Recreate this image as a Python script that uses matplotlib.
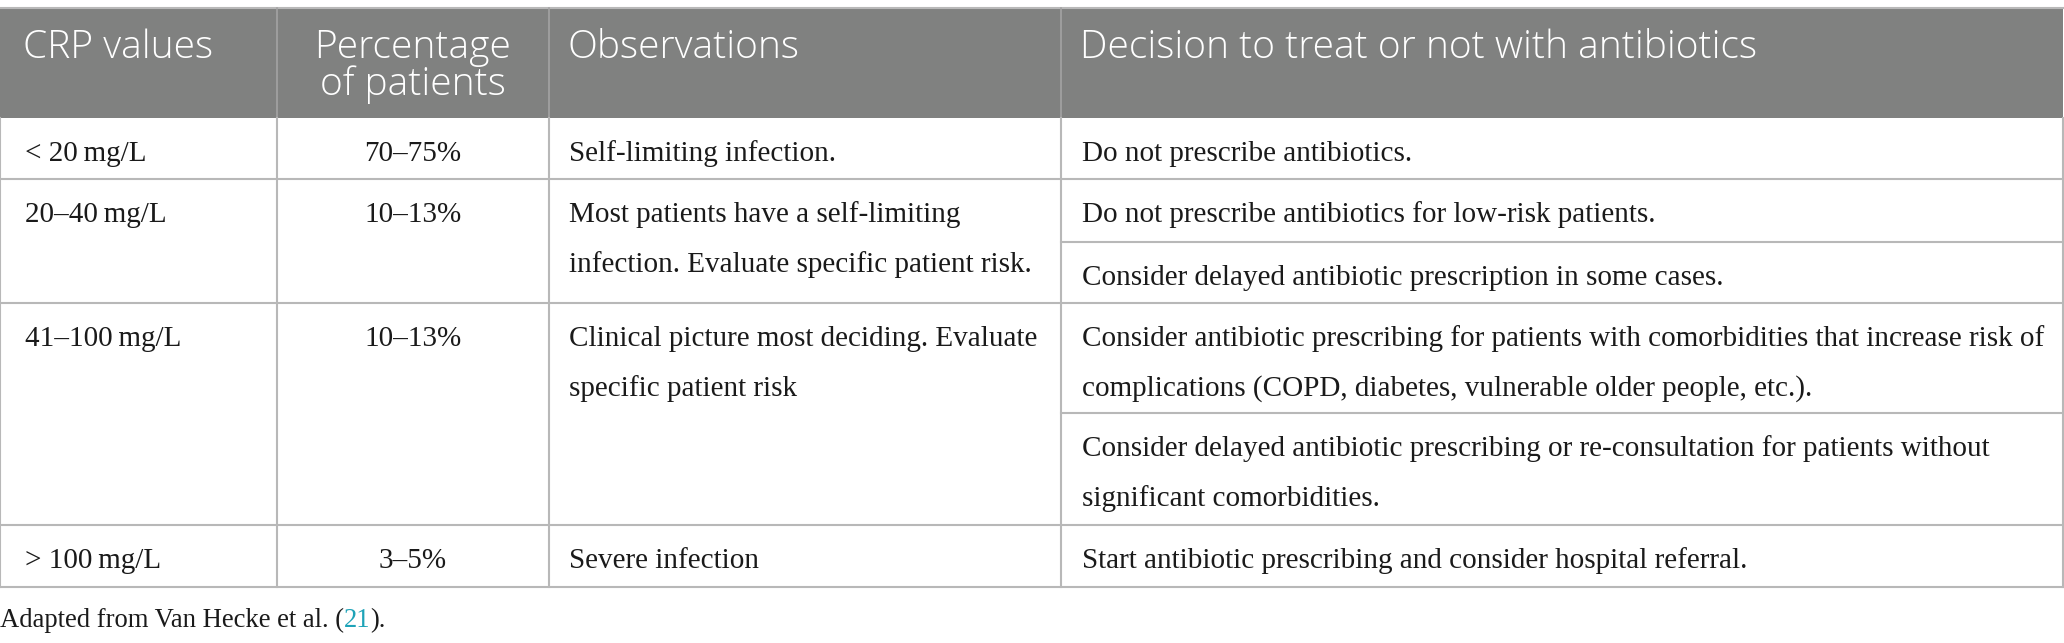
import matplotlib
matplotlib.use("Agg")
import matplotlib.pyplot as plt
from matplotlib.patches import Rectangle

# table content
headers = ["CRP values", "Percentage\nof patients", "Observations",
           "Decision to treat or not with antibiotics"]
crp_values = ["< 20\u2009mg/L", "20\u201340\u2009mg/L", "41\u2013100\u2009mg/L", "> 100\u2009mg/L"]
patient_pct = ["70\u201375%", "10\u201313%", "10\u201313%", "3\u20135%"]
observations = [
    "Self-limiting infection.",
    "Most patients have a self-limiting\ninfection. Evaluate specific patient risk.",
    "Clinical picture most deciding. Evaluate\nspecific patient risk",
    "Severe infection",
]
decisions = [
    ["Do not prescribe antibiotics."],
    ["Do not prescribe antibiotics for low-risk patients.",
     "Consider delayed antibiotic prescription in some cases."],
    ["Consider antibiotic prescribing for patients with comorbidities that increase risk of\n"
     "complications (COPD, diabetes, vulnerable older people, etc.).",
     "Consider delayed antibiotic prescribing or re-consultation for patients without\n"
     "significant comorbidities."],
    ["Start antibiotic prescribing and consider hospital referral."],
]
footnote = ["Adapted from Van Hecke et al. (", "21", ")."]

# layout (pixels)
W, H = 2064, 643
col_x = [0, 277, 549, 1061, 2063]
head_top, head_bot = 8, 118
row_lines = [118, 179, 303, 525, 587]
sub_lines = [[], [242], [413], []]
pad = [25, 0, 20, 21]
line_gap = 50
first_base = 43

head_bg = "#808180"
grid = "#b8b8b8"
body_font = dict(family="Liberation Serif", size=21, color="#1a1a1a")
head_font = dict(family="Open Sans", size=28, color="white", weight="light")

fig = plt.figure(figsize=(W / 100, H / 100), dpi=100)
ax = fig.add_axes([0, 0, 1, 1])
ax.set_xlim(0, W)
ax.set_ylim(H, 0)
ax.axis("off")

# header
ax.add_patch(Rectangle((col_x[0], head_top), col_x[-1] - col_x[0], head_bot - head_top,
                       facecolor=head_bg, edgecolor="none"))
ax.plot([col_x[0], col_x[-1]], [head_top, head_top], color=grid, lw=1.5)
for x in col_x[1:-1]:
    ax.plot([x, x], [head_top, head_bot], color="#a3a3a3", lw=1.2)
for i, h in enumerate(headers):
    for k, ln in enumerate(h.split("\n")):
        y = head_top + 50 + k * 37
        if i == 1:
            ax.text((col_x[1] + col_x[2]) / 2, y, ln, ha="center", va="baseline", **head_font)
        else:
            ax.text(col_x[i] + pad[i] - 2, y, ln, ha="left", va="baseline", **head_font)

# body grid
for y in row_lines[1:]:
    ax.plot([col_x[0], col_x[-1]], [y, y], color=grid, lw=1.5)
for subs in sub_lines:
    for y in subs:
        ax.plot([col_x[3], col_x[-1]], [y, y], color=grid, lw=1.5)
for x in col_x:
    ax.plot([x, x], [row_lines[0], row_lines[-1]], color=grid, lw=1.5)


def cell_text(x, top, txt, ha="left"):
    for k, ln in enumerate(txt.split("\n")):
        ax.text(x, top + first_base + k * line_gap, ln, ha=ha, va="baseline", **body_font)


for r in range(len(crp_values)):
    top = row_lines[r]
    cell_text(col_x[0] + pad[0], top, crp_values[r])
    cell_text((col_x[1] + col_x[2]) / 2, top, patient_pct[r], ha="center")
    cell_text(col_x[2] + pad[2], top, observations[r])
    tops = [top] + sub_lines[r]
    for t, d in zip(tops, decisions[r]):
        cell_text(col_x[3] + pad[3], t, d)

# footnote with coloured reference number
renderer = fig.canvas.get_renderer()
fx, fy = 0, 627
colors = ["#1a1a1a", "#1ea3b8", "#1a1a1a"]
for part, c in zip(footnote, colors):
    t = ax.text(fx, fy, part, ha="left", va="baseline", family="Liberation Serif", size=19.2, color=c)
    fx += t.get_window_extent(renderer).width

fig.savefig("out.png", dpi=100, facecolor="white")
